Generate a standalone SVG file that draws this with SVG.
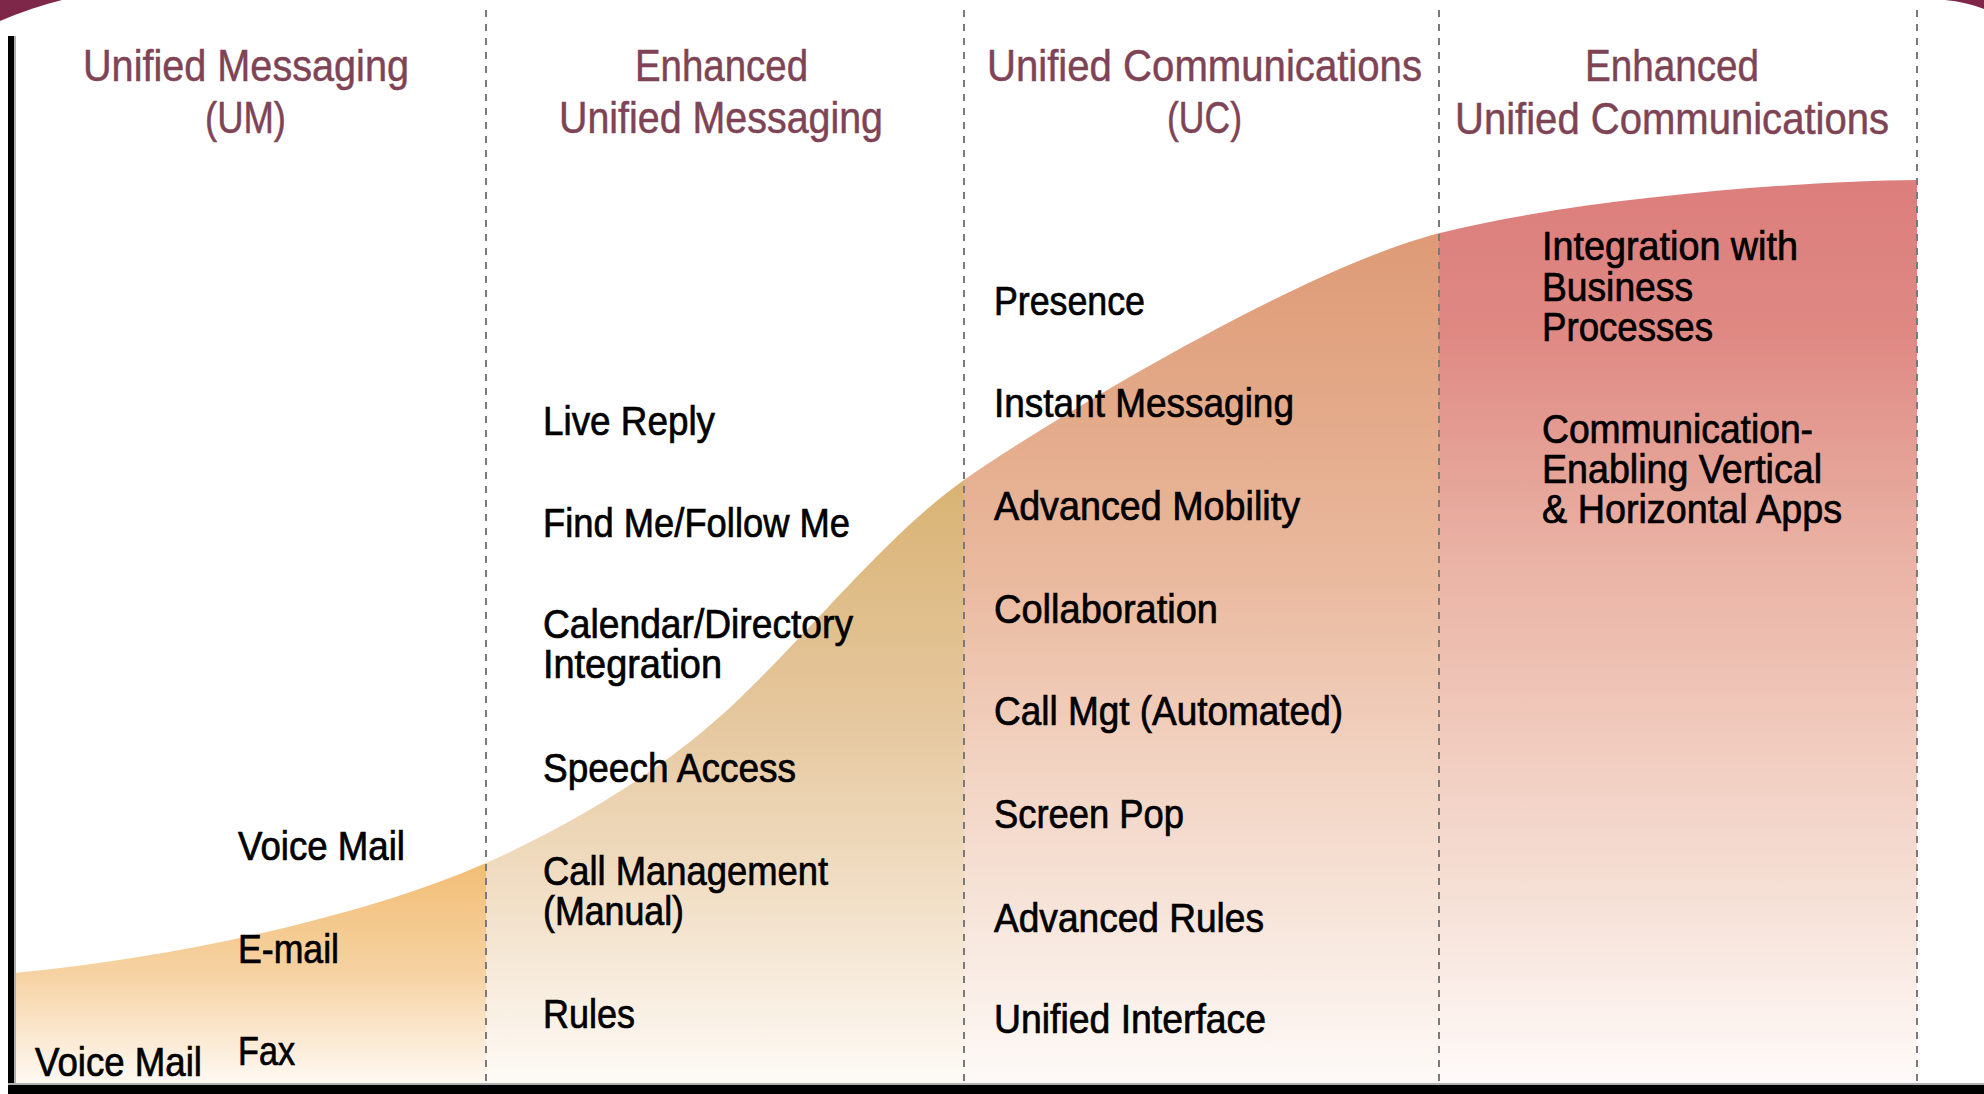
<svg xmlns="http://www.w3.org/2000/svg" width="1984" height="1094" viewBox="0 0 1984 1094">
  <style>
    .h { font-family: "Liberation Sans", Arial, sans-serif; font-size: 45px; fill: #7e4456; stroke: #7e4456; stroke-width: 0.5px; }
    .t { font-family: "Liberation Sans", Arial, sans-serif; font-size: 40px; fill: #000000; stroke: #000000; stroke-width: 0.7px; }
    .div { stroke: #7a7a7a; stroke-width: 2; stroke-dasharray: 7 7; fill: none; }
  </style>
  <defs>
    <clipPath id="curveClip">
      <path d="M 14 973 C 200 955, 380 910, 486 863 C 560 830, 660 775, 738 700 C 816 625, 890 532, 964 480 C 1038 428, 1300 268, 1440 233 C 1580 198, 1800 181, 1917 180 L 1917 1086 L 14 1086 Z"/>
    </clipPath>
    <linearGradient id="g1" gradientUnits="userSpaceOnUse" x1="0" y1="860" x2="0" y2="1086">
      <stop offset="0" stop-color="#f2bd74"/>
      <stop offset="0.5" stop-color="#f6d2a2"/>
      <stop offset="1" stop-color="#fffaf5"/>
    </linearGradient>
    <linearGradient id="g2" gradientUnits="userSpaceOnUse" x1="0" y1="480" x2="0" y2="1086">
      <stop offset="0" stop-color="#d9b374"/>
      <stop offset="0.4" stop-color="#e6c89f"/>
      <stop offset="0.7" stop-color="#f2e0c8"/>
      <stop offset="1" stop-color="#fefbf7"/>
    </linearGradient>
    <linearGradient id="g3" gradientUnits="userSpaceOnUse" x1="0" y1="233" x2="0" y2="1086">
      <stop offset="0" stop-color="#de9a76"/>
      <stop offset="0.2" stop-color="#e3a988"/>
      <stop offset="0.4" stop-color="#eab99e"/>
      <stop offset="0.6" stop-color="#f1d0be"/>
      <stop offset="0.8" stop-color="#f7e5da"/>
      <stop offset="1" stop-color="#fefaf8"/>
    </linearGradient>
    <linearGradient id="g4" gradientUnits="userSpaceOnUse" x1="0" y1="180" x2="0" y2="1086">
      <stop offset="0" stop-color="#dc7e7c"/>
      <stop offset="0.17" stop-color="#df8983"/>
      <stop offset="0.4" stop-color="#e9b0a2"/>
      <stop offset="0.6" stop-color="#f0c9bb"/>
      <stop offset="0.8" stop-color="#f6e1d7"/>
      <stop offset="1" stop-color="#fffbfa"/>
    </linearGradient>
  </defs>

  <rect x="0" y="0" width="1984" height="1094" fill="#ffffff"/>

  <!-- adoption curve fill -->
  <g id="curve" clip-path="url(#curveClip)">
    <rect x="14" y="150" width="472" height="940" fill="url(#g1)"/>
    <rect x="486" y="150" width="478" height="940" fill="url(#g2)"/>
    <rect x="964" y="150" width="475" height="940" fill="url(#g3)"/>
    <rect x="1439" y="150" width="478" height="940" fill="url(#g4)"/>
  </g>

  <!-- corner decorations -->
  <path d="M 0 0 L 62 0 Q 30 8 0 21 Z" fill="#7e2748"/>
  <path d="M 1945 0 L 1984 0 L 1984 9 Q 1966 2 1945 0 Z" fill="#7e2748"/>

  <!-- axes -->
  <g id="axes">
    <rect x="14" y="36" width="2" height="1050" fill="#b0b0b0"/>
    <rect x="8" y="36" width="6" height="1058" fill="#000000"/>
    <rect x="8" y="1083" width="1976" height="2" fill="#b0b0b0"/>
    <rect x="8" y="1085" width="1976" height="9" fill="#000000"/>
  </g>

  <!-- column dividers -->
  <g id="connectors">
    <line class="div" x1="486" y1="10" x2="486" y2="1082"/>
    <line class="div" x1="964" y1="10" x2="964" y2="1082"/>
    <line class="div" x1="1439" y1="10" x2="1439" y2="1082"/>
    <line class="div" x1="1917" y1="10" x2="1917" y2="1082"/>
  </g>

  <!-- column 1: Unified Messaging -->
  <g id="col-um">
    <text class="h" x="83" y="81" textLength="326" lengthAdjust="spacingAndGlyphs">Unified Messaging</text>
    <text class="h" x="205" y="133" textLength="81" lengthAdjust="spacingAndGlyphs">(UM)</text>
    <text class="t" x="238" y="860" textLength="167" lengthAdjust="spacingAndGlyphs">Voice Mail</text>
    <text class="t" x="238" y="963" textLength="101" lengthAdjust="spacingAndGlyphs">E-mail</text>
    <text class="t" x="238" y="1065" textLength="57" lengthAdjust="spacingAndGlyphs">Fax</text>
    <text class="t" x="35" y="1076" textLength="167" lengthAdjust="spacingAndGlyphs">Voice Mail</text>
  </g>

  <!-- column 2: Enhanced Unified Messaging -->
  <g id="col-eum">
    <text class="h" x="635" y="81" textLength="173" lengthAdjust="spacingAndGlyphs">Enhanced</text>
    <text class="h" x="559" y="133" textLength="324" lengthAdjust="spacingAndGlyphs">Unified Messaging</text>
    <text class="t" x="543" y="435" textLength="172" lengthAdjust="spacingAndGlyphs">Live Reply</text>
    <text class="t" x="543" y="537" textLength="307" lengthAdjust="spacingAndGlyphs">Find Me/Follow Me</text>
    <text class="t" x="543" y="638" textLength="310" lengthAdjust="spacingAndGlyphs">Calendar/Directory</text>
    <text class="t" x="543" y="678" textLength="179" lengthAdjust="spacingAndGlyphs">Integration</text>
    <text class="t" x="543" y="782" textLength="253" lengthAdjust="spacingAndGlyphs">Speech Access</text>
    <text class="t" x="543" y="885" textLength="285" lengthAdjust="spacingAndGlyphs">Call Management</text>
    <text class="t" x="543" y="925" textLength="141" lengthAdjust="spacingAndGlyphs">(Manual)</text>
    <text class="t" x="543" y="1028" textLength="92" lengthAdjust="spacingAndGlyphs">Rules</text>
  </g>

  <!-- column 3: Unified Communications -->
  <g id="col-uc">
    <text class="h" x="987" y="81" textLength="435" lengthAdjust="spacingAndGlyphs">Unified Communications</text>
    <text class="h" x="1167" y="133" textLength="75" lengthAdjust="spacingAndGlyphs">(UC)</text>
    <text class="t" x="994" y="315" textLength="151" lengthAdjust="spacingAndGlyphs">Presence</text>
    <text class="t" x="994" y="417" textLength="300" lengthAdjust="spacingAndGlyphs">Instant Messaging</text>
    <text class="t" x="994" y="520" textLength="306" lengthAdjust="spacingAndGlyphs">Advanced Mobility</text>
    <text class="t" x="994" y="623" textLength="224" lengthAdjust="spacingAndGlyphs">Collaboration</text>
    <text class="t" x="994" y="725" textLength="349" lengthAdjust="spacingAndGlyphs">Call Mgt (Automated)</text>
    <text class="t" x="994" y="828" textLength="190" lengthAdjust="spacingAndGlyphs">Screen Pop</text>
    <text class="t" x="994" y="932" textLength="270" lengthAdjust="spacingAndGlyphs">Advanced Rules</text>
    <text class="t" x="994" y="1033" textLength="272" lengthAdjust="spacingAndGlyphs">Unified Interface</text>
  </g>

  <!-- column 4: Enhanced Unified Communications -->
  <g id="col-euc">
    <text class="h" x="1585" y="81" textLength="174" lengthAdjust="spacingAndGlyphs">Enhanced</text>
    <text class="h" x="1455" y="134" textLength="434" lengthAdjust="spacingAndGlyphs">Unified Communications</text>
    <text class="t" x="1542" y="260" textLength="256" lengthAdjust="spacingAndGlyphs">Integration with</text>
    <text class="t" x="1542" y="301" textLength="151" lengthAdjust="spacingAndGlyphs">Business</text>
    <text class="t" x="1542" y="341" textLength="171" lengthAdjust="spacingAndGlyphs">Processes</text>
    <text class="t" x="1542" y="443" textLength="271" lengthAdjust="spacingAndGlyphs">Communication-</text>
    <text class="t" x="1542" y="483" textLength="280" lengthAdjust="spacingAndGlyphs">Enabling Vertical</text>
    <text class="t" x="1542" y="523" textLength="300" lengthAdjust="spacingAndGlyphs">&amp; Horizontal Apps</text>
  </g>
</svg>
